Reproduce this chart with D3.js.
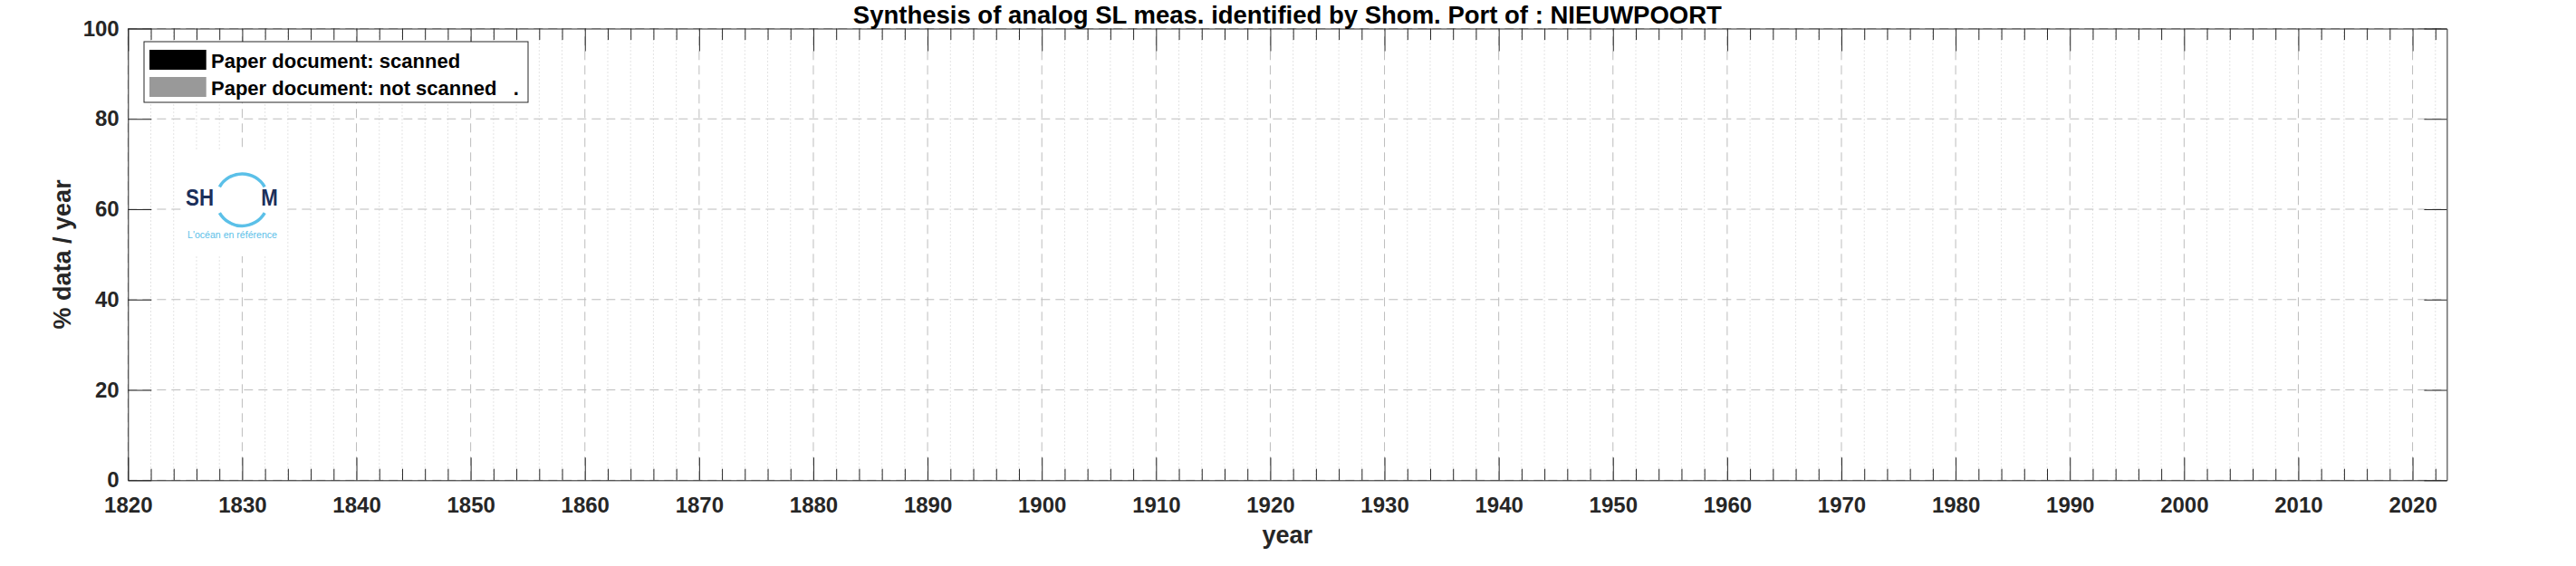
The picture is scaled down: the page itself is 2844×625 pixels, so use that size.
<!DOCTYPE html>
<html>
<head>
<meta charset="utf-8">
<script src="https://cdn.jsdelivr.net/npm/d3@7"></script>
<style>
  html, body { margin: 0; padding: 0; background: #ffffff; }
  svg { display: block; font-family: "Liberation Sans", Arial, Helvetica, sans-serif; }
</style>
</head>
<body>
<svg id="chart" width="2844" height="625"></svg>
<script>
// ---------------- data ----------------
const titleText = "Synthesis of analog SL meas. identified by Shom. Port of : NIEUWPOORT";
const xLabelText = "year";
const yLabelText = "% data / year";
const xDomain = [1820, 2023];
const yDomain = [0, 100];
const xTickValues = [1820, 1830, 1840, 1850, 1860, 1870, 1880, 1890, 1900, 1910, 1920, 1930, 1940, 1950, 1960, 1970, 1980, 1990, 2000, 2010, 2020];
const yTickValues = [0, 20, 40, 60, 80, 100];
const legendLabels = ["Paper document: scanned", "Paper document: not scanned   ."];
const legendColors = ["#000000", "#999999"];
// no measurements are shown in the reference: both series are empty
const scannedYears = [];
const scannedPct = [];
const notScannedYears = [];
const notScannedPct = [];
const logoWord = ["SH", "M"];
const logoTagline = "L'océan en référence";

// ---------------- layout ----------------
const plot = { left: 141.3, right: 2701.4, top: 31.5, bottom: 530.3 };
const axisColor = "#262626";

const svg = d3.select("#chart");
const x = d3.scaleLinear().domain(xDomain).range([plot.left, plot.right]);
const y = d3.scaleLinear().domain(yDomain).range([plot.bottom, plot.top]);
const minorX = d3.range(xDomain[0], xDomain[1] + 1, 2).filter(v => v % 10 !== 0);

// ---------------- grid ----------------
const grid = svg.append("g").attr("class", "grid");
grid.selectAll("line.minor").data(minorX).join("line")
  .attr("x1", d => x(d)).attr("x2", d => x(d))
  .attr("y1", plot.top).attr("y2", plot.bottom)
  .attr("stroke", "#c8c8c8").attr("stroke-width", 1).attr("stroke-dasharray", "1,3");
grid.selectAll("line.majx").data(xTickValues).join("line")
  .attr("x1", d => x(d)).attr("x2", d => x(d))
  .attr("y1", plot.bottom).attr("y2", plot.top)
  .attr("stroke", "#bdbdbd").attr("stroke-width", 1).attr("stroke-dasharray", "10,6");
grid.selectAll("line.majy").data(yTickValues).join("line")
  .attr("x1", plot.left).attr("x2", plot.right)
  .attr("y1", d => y(d)).attr("y2", d => y(d))
  .attr("stroke", "#bdbdbd").attr("stroke-width", 1).attr("stroke-dasharray", "10,6");

// ---------------- bars (empty series) ----------------
const barW = x(xDomain[0] + 1) - x(xDomain[0]);
svg.append("g").selectAll("rect").data(scannedYears.map((d, i) => ({ yr: d, v: scannedPct[i] }))).join("rect")
  .attr("x", d => x(d.yr) - barW / 2).attr("width", barW)
  .attr("y", d => y(d.v)).attr("height", d => y(0) - y(d.v))
  .attr("fill", legendColors[0]);
svg.append("g").selectAll("rect").data(notScannedYears.map((d, i) => ({ yr: d, v: notScannedPct[i] }))).join("rect")
  .attr("x", d => x(d.yr) - barW / 2).attr("width", barW)
  .attr("y", d => y(d.v)).attr("height", d => y(0) - y(d.v))
  .attr("fill", legendColors[1]);

// ---------------- logo ----------------
const logo = svg.append("g").attr("class", "logo");
logo.append("rect").attr("x", 200).attr("y", 167).attr("width", 112).attr("height", 116).attr("fill", "#ffffff");
const cx = 267.3, cy = 220.7;
const arc = d3.arc().innerRadius(27).outerRadius(30.5);
logo.append("path").attr("transform", `translate(${cx},${cy})`)
  .attr("d", arc({ startAngle: -Math.PI / 3, endAngle: Math.PI / 3 })).attr("fill", "#5bc0e8");
logo.append("path").attr("transform", `translate(${cx},${cy})`)
  .attr("d", arc({ startAngle: 2 * Math.PI / 3, endAngle: 4 * Math.PI / 3 })).attr("fill", "#5bc0e8");
logo.append("text").attr("x", 205).attr("y", 227).attr("font-size", 25).attr("font-weight", "bold")
  .attr("fill", "#1b2f5b").attr("textLength", 31).attr("lengthAdjust", "spacingAndGlyphs").text(logoWord[0]);
logo.append("text").attr("x", 288.3).attr("y", 227).attr("font-size", 25).attr("font-weight", "bold")
  .attr("fill", "#1b2f5b").attr("textLength", 18.5).attr("lengthAdjust", "spacingAndGlyphs").text(logoWord[1]);
logo.append("text").attr("x", 207).attr("y", 263).attr("font-size", 11)
  .attr("fill", "#5bc0e8").attr("textLength", 99).attr("lengthAdjust", "spacingAndGlyphs").text(logoTagline);

// ---------------- axes ----------------
function styleAxis(g) {
  g.attr("font-family", null).attr("font-size", null);
  g.selectAll("path.domain").attr("stroke", axisColor).attr("stroke-width", 1);
  g.selectAll(".tick line").attr("stroke", axisColor).attr("stroke-width", 1);
  g.selectAll(".tick text").attr("fill", axisColor).attr("font-size", 24).attr("font-weight", "bold");
}
// minor ticks
svg.append("g").attr("transform", `translate(0,${plot.bottom})`)
  .call(d3.axisBottom(x).tickValues(minorX).tickSizeInner(-12.6).tickSizeOuter(0).tickFormat(""))
  .call(styleAxis).call(g => g.select(".domain").remove());
svg.append("g").attr("transform", `translate(0,${plot.top})`)
  .call(d3.axisTop(x).tickValues(minorX).tickSizeInner(-12.6).tickSizeOuter(0).tickFormat(""))
  .call(styleAxis).call(g => g.select(".domain").remove());
// major
svg.append("g").attr("transform", `translate(0,${plot.top})`)
  .call(d3.axisTop(x).tickValues(xTickValues).tickSizeInner(-25).tickSizeOuter(0).tickFormat(""))
  .call(styleAxis);
svg.append("g").attr("transform", `translate(${plot.right},0)`)
  .call(d3.axisRight(y).tickValues(yTickValues).tickSizeInner(-25).tickSizeOuter(0).tickFormat(""))
  .call(styleAxis);
svg.append("g").attr("transform", `translate(0,${plot.bottom})`)
  .call(d3.axisBottom(x).tickValues(xTickValues).tickSizeInner(-25).tickSizeOuter(0).tickPadding(18.7).tickFormat(d3.format("d")))
  .call(styleAxis);
svg.append("g").attr("transform", `translate(${plot.left},0)`)
  .call(d3.axisLeft(y).tickValues(yTickValues).tickSizeInner(-26).tickSizeOuter(0).tickPadding(9.6).tickFormat(d3.format("d")))
  .call(styleAxis);

// ---------------- legend ----------------
const legend = svg.append("g").attr("class", "legend");
legend.append("rect").attr("x", 159).attr("y", 46).attr("width", 424).attr("height", 67)
  .attr("fill", "#ffffff").attr("stroke", axisColor).attr("stroke-width", 1);
const rowY = [55, 85];
legend.selectAll("rect.sw").data(legendLabels).join("rect")
  .attr("x", 165).attr("y", (d, i) => rowY[i]).attr("width", 62.7).attr("height", 22)
  .attr("fill", (d, i) => legendColors[i]);
legend.selectAll("text").data(legendLabels).join("text")
  .attr("x", 233).attr("y", (d, i) => rowY[i] + 20)
  .attr("font-size", 22).attr("font-weight", "bold").attr("fill", "#000000")
  .style("white-space", "pre").text(d => d);

// ---------------- titles ----------------
const cxPlot = (plot.left + plot.right) / 2;
svg.append("text").attr("x", cxPlot).attr("y", 25.5).attr("text-anchor", "middle")
  .attr("font-size", 27.5).attr("font-weight", "bold").attr("fill", "#000000").text(titleText);
svg.append("text").attr("x", cxPlot).attr("y", 600).attr("text-anchor", "middle")
  .attr("font-size", 27).attr("font-weight", "bold").attr("fill", axisColor).text(xLabelText);
svg.append("text").attr("transform", `translate(78,${(plot.top + plot.bottom) / 2}) rotate(-90)`)
  .attr("text-anchor", "middle")
  .attr("font-size", 27).attr("font-weight", "bold").attr("fill", axisColor).text(yLabelText);
</script>
</body>
</html>
